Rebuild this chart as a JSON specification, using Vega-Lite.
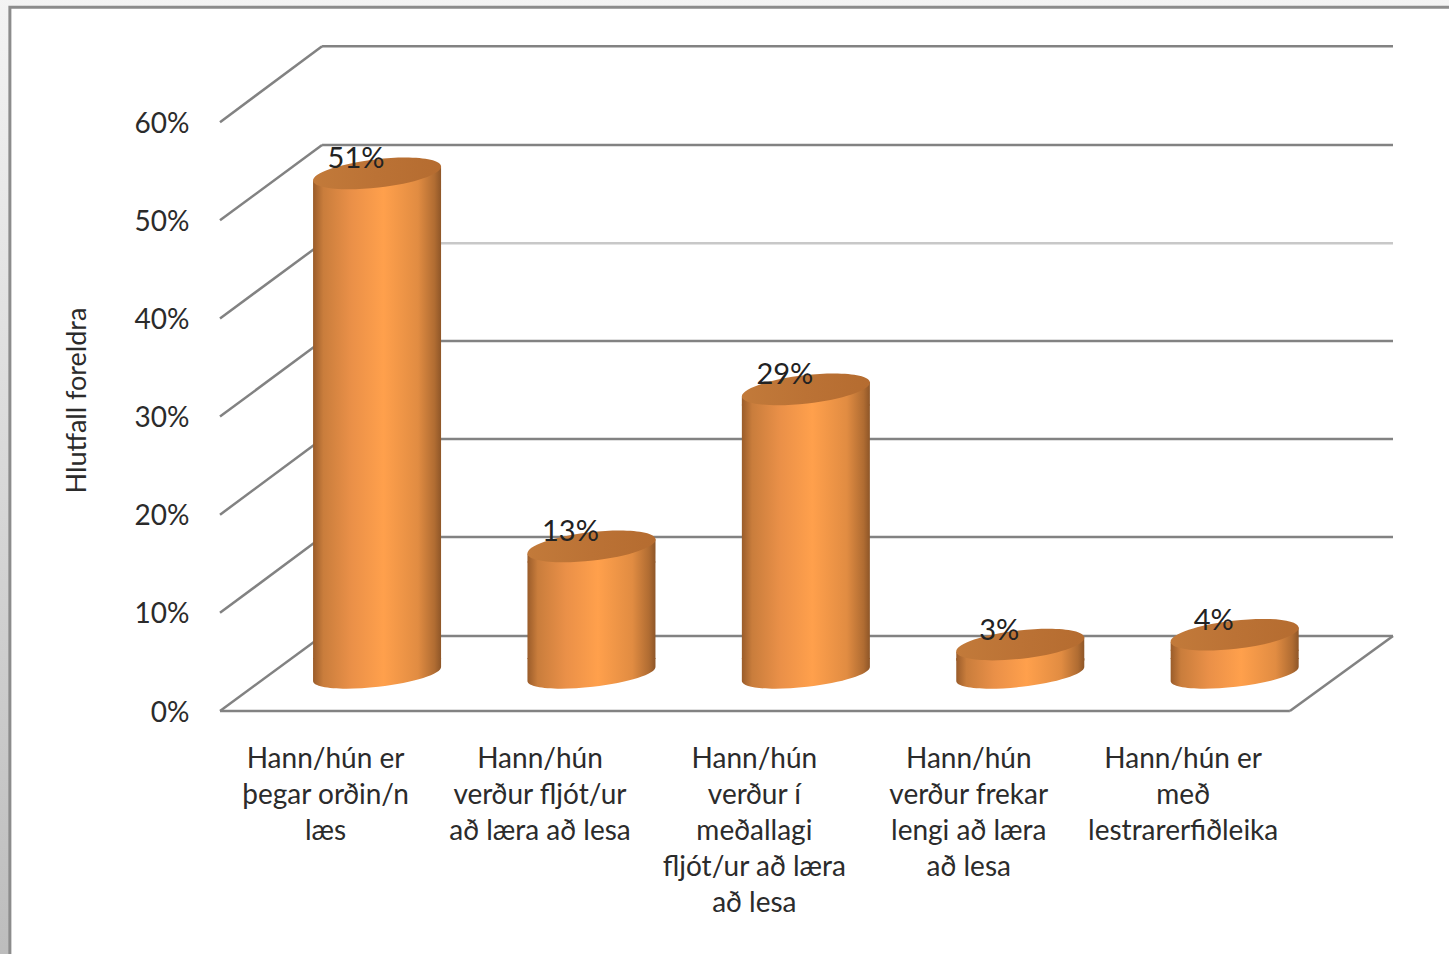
{
"$schema":"https://vega.github.io/schema/vega-lite/v6.json",
"width":1173,"height":687,
"autosize":{"type":"none"},
"padding":{"left":220,"top":24,"right":56,"bottom":243},
"background":"#ffffff",
"config":{"view":{"stroke":null},"font":"Lato"},
"datasets":{
"bakgrunnur":[{"x0":-1.03,"x1":5.74,"y0":-0.26,"y1":0.73}],
"rammi":[{"x0":-0.98,"x1":5.8,"y0":-0.3,"y1":0.717}],
"linur":[
{"x0":0.476,"x1":5.471,"y0":0.6774,"y1":0.6774,"level":0.6},
{"x0":0.476,"x1":5.471,"y0":0.5766,"y1":0.5766,"level":0.5},
{"x0":0.476,"x1":5.471,"y0":0.4767,"y1":0.4767,"level":0.4},
{"x0":0.476,"x1":5.471,"y0":0.3769,"y1":0.3769,"level":0.3},
{"x0":0.476,"x1":5.471,"y0":0.2771,"y1":0.2771,"level":0.2},
{"x0":0.476,"x1":5.471,"y0":0.1772,"y1":0.1772,"level":0.1},
{"x0":0.476,"x1":5.471,"y0":0.0764,"y1":0.0764,"level":0},
{"x0":0,"x1":0.476,"y0":0.6,"y1":0.6774,"level":0.6},
{"x0":0,"x1":0.476,"y0":0.5,"y1":0.5766,"level":0.5},
{"x0":0,"x1":0.476,"y0":0.4,"y1":0.4767,"level":0.41},
{"x0":0,"x1":0.476,"y0":0.3,"y1":0.3769,"level":0.3},
{"x0":0,"x1":0.476,"y0":0.2,"y1":0.2771,"level":0.2},
{"x0":0,"x1":0.476,"y0":0.1,"y1":0.1772,"level":0.1},
{"x0":0,"x1":0.476,"y0":0,"y1":0.0764,"level":0},
{"x0":0,"x1":4.99,"y0":0,"y1":0,"level":0},
{"x0":4.99,"x1":5.471,"y0":0,"y1":0.0764,"level":0}
],
"svor":[
{"stada":0.49,"flokkur":"Hann/hún er þegar orðin/n læs","hlutfall":0.51},
{"stada":1.49,"flokkur":"Hann/hún verður fljót/ur að læra að lesa","hlutfall":0.13},
{"stada":2.49,"flokkur":"Hann/hún verður í meðallagi fljót/ur að læra að lesa","hlutfall":0.29},
{"stada":3.49,"flokkur":"Hann/hún verður frekar lengi að læra að lesa","hlutfall":0.03},
{"stada":4.49,"flokkur":"Hann/hún er með lestrarerfiðleika","hlutfall":0.04}
]
},
"layer":[
{"data":{"name":"bakgrunnur"},
 "mark":{"type":"rect","fill":{"gradient":"linear","x1":0,"y1":0,"x2":0,"y2":1,"stops":[{"offset":0,"color":"#f4f4f4"},{"offset":1,"color":"#bcbcbc"}]}},
 "encoding":{
  "x":{"field":"x0","type":"quantitative","scale":{"domain":[0,5.471],"nice":false,"zero":false,"padding":0},
    "axis":{"title":null,"values":[0.49,1.49,2.49,3.49,4.49],"domain":false,"ticks":false,"grid":false,"zindex":1,"labelFont":"Lato","labelFontSize":28,"labelColor":"#2b2b2b","labelPadding":34,"labelLineHeight":36,"labelLimit":400,"labelOverlap":false,"labelFlush":false,"labelBound":false,"labelExpr":"[['Hann/hún er','þegar orðin/n','læs'],['Hann/hún','verður fljót/ur','að læra að lesa'],['Hann/hún','verður í','meðallagi','fljót/ur að læra','að lesa'],['Hann/hún','verður frekar','lengi að læra','að lesa'],['Hann/hún er','með','lestrarerfiðleika']][floor(datum.value)]"}},
  "x2":{"field":"x1"},
  "y":{"field":"y0","type":"quantitative","scale":{"domain":[0,0.7],"nice":false,"zero":false,"padding":0},
    "axis":{"title":"Hlutfall foreldra","values":[0,0.1,0.2,0.3,0.4,0.5,0.6],"format":".0%","domain":false,"ticks":false,"grid":false,"zindex":1,"labelFont":"Lato","labelFontSize":28,"labelColor":"#2b2b2b","labelPadding":31,"labelOffset":2,"titleFont":"Lato","titleFontSize":27,"titleFontWeight":"normal","titleColor":"#2b2b2b","titleX":-129,"titleY":376,"titleAngle":-90}},
  "y2":{"field":"y1"}}},
{"data":{"name":"rammi"},
 "mark":{"type":"rect","fill":"#ffffff","stroke":"#8c8c8c","strokeWidth":3},
 "encoding":{
  "x":{"field":"x0","type":"quantitative"},
  "x2":{"field":"x1"},
  "y":{"field":"y0","type":"quantitative"},
  "y2":{"field":"y1"}}},
{"data":{"name":"linur"},
 "mark":{"type":"rule","strokeWidth":2.5},
 "encoding":{
  "x":{"field":"x0","type":"quantitative"},
  "x2":{"field":"x1"},
  "y":{"field":"y0","type":"quantitative"},
  "y2":{"field":"y1"},
  "color":{"condition":{"test":"datum.level==0.4","value":"#c8c8c8"},"value":"#828282"}}},
{"data":{"name":"svor"},
 "mark":{"type":"bar","width":128,"xOffset":52,"yOffset":-22,"y2Offset":-52,"cornerRadius":0,"fill":{"gradient":"linear","x1":0,"y1":0,"x2":1,"y2":0,"stops":[{"offset":0,"color":"#9a5c2a"},{"offset":0.08,"color":"#c97d3c"},{"offset":0.3,"color":"#ea9048"},{"offset":0.55,"color":"#ffa04c"},{"offset":0.82,"color":"#e18c42"},{"offset":0.95,"color":"#b06c32"},{"offset":1,"color":"#8e5628"}]}},
 "encoding":{
  "x":{"field":"stada","type":"quantitative"},
  "y":{"field":"hlutfall","type":"quantitative","stack":null},
  "y2":{"datum":0}}},
{"data":{"name":"svor"},
 "mark":{"type":"point","filled":true,"opacity":1,"size":16589,"xOffset":52,"yOffset":-37,"shape":"M-0.994,-0.25L0.994,-0.25L0.994,-0.113A1,0.2,-6.5,0,1,-0.994,0.113Z","fill":{"gradient":"linear","x1":0,"y1":0,"x2":1,"y2":0,"stops":[{"offset":0,"color":"#9a5c2a"},{"offset":0.08,"color":"#c97d3c"},{"offset":0.3,"color":"#ea9048"},{"offset":0.55,"color":"#ffa04c"},{"offset":0.82,"color":"#e18c42"},{"offset":0.95,"color":"#b06c32"},{"offset":1,"color":"#8e5628"}]}},
 "encoding":{
  "x":{"field":"stada","type":"quantitative"},
  "y":{"datum":0,"type":"quantitative"}}},
{"data":{"name":"svor"},
 "mark":{"type":"point","filled":true,"opacity":1,"size":16589,"xOffset":52,"yOffset":-37,"shape":"M-0.994,0.25L-0.994,0.113L0.994,-0.113L0.994,0.25Z","fill":{"gradient":"linear","x1":0,"y1":0,"x2":1,"y2":0,"stops":[{"offset":0,"color":"#9a5c2a"},{"offset":0.08,"color":"#c97d3c"},{"offset":0.3,"color":"#ea9048"},{"offset":0.55,"color":"#ffa04c"},{"offset":0.82,"color":"#e18c42"},{"offset":0.95,"color":"#b06c32"},{"offset":1,"color":"#8e5628"}]}},
 "encoding":{
  "x":{"field":"stada","type":"quantitative"},
  "y":{"field":"hlutfall","type":"quantitative"}}},
{"data":{"name":"svor"},
 "mark":{"type":"point","filled":true,"opacity":1,"size":16589,"xOffset":52,"yOffset":-37,"shape":"M-0.994,0.113A1,0.22,-6.5,1,1,0.994,-0.113A1,0.22,-6.5,1,1,-0.994,0.113Z","fill":{"gradient":"linear","x1":0,"y1":0,"x2":1,"y2":0,"stops":[{"offset":0,"color":"#c27a3a"},{"offset":0.5,"color":"#bb7235"},{"offset":1,"color":"#b56c30"}]}},
 "encoding":{
  "x":{"field":"stada","type":"quantitative"},
  "y":{"field":"hlutfall","type":"quantitative"}}},
{"data":{"name":"svor"},
 "mark":{"type":"text","font":"Lato","fontSize":29,"color":"#222222","xOffset":31,"yOffset":-51,"align":"center","baseline":"middle"},
 "encoding":{
  "x":{"field":"stada","type":"quantitative"},
  "y":{"field":"hlutfall","type":"quantitative"},
  "text":{"field":"hlutfall","type":"quantitative","format":".0%"}}}
]
}
